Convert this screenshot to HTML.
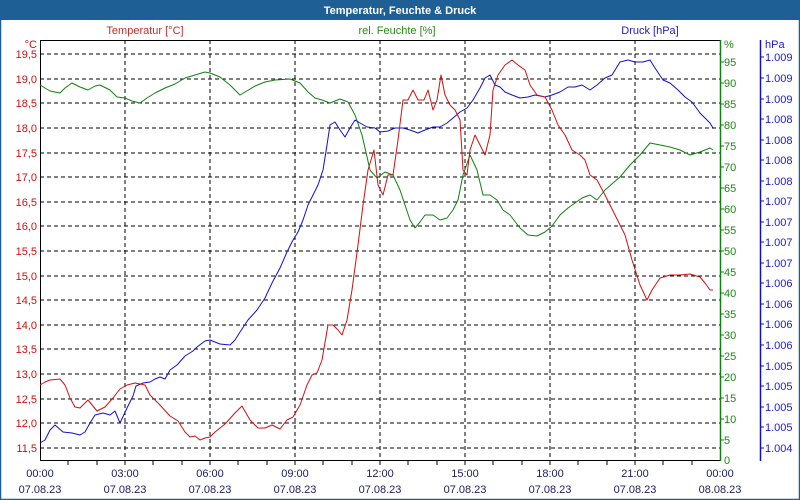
<!DOCTYPE html>
<html><head><meta charset="utf-8"><style>
html,body{margin:0;padding:0;background:#fff}
svg{display:block}
text{font-family:"Liberation Sans",sans-serif;font-size:11px}
</style></head><body>
<svg width="800" height="500" viewBox="0 0 800 500">
<rect x="0" y="0" width="800" height="500" fill="#fff"/>
<rect x="0.5" y="0.5" width="799" height="499" fill="none" stroke="#1e5f96" stroke-width="1.5"/>
<rect x="0" y="0" width="800" height="20" fill="#1e5f96"/>
<text x="400" y="14" text-anchor="middle" fill="#fff" font-weight="bold">Temperatur, Feuchte &amp; Druck</text>
<text x="145" y="34" text-anchor="middle" fill="#c0302a">Temperatur [°C]</text>
<text x="397" y="34" text-anchor="middle" fill="#2a8a10">rel. Feuchte [%]</text>
<text x="650" y="34" text-anchor="middle" fill="#2020c0">Druck [hPa]</text>
<g stroke="#000" stroke-dasharray="4,3" stroke-width="1">
<line x1="40" x2="720" y1="54" y2="54"/><line x1="40" x2="720" y1="79" y2="79"/><line x1="40" x2="720" y1="103" y2="103"/><line x1="40" x2="720" y1="128" y2="128"/><line x1="40" x2="720" y1="153" y2="153"/><line x1="40" x2="720" y1="177" y2="177"/><line x1="40" x2="720" y1="202" y2="202"/><line x1="40" x2="720" y1="226" y2="226"/><line x1="40" x2="720" y1="251" y2="251"/><line x1="40" x2="720" y1="276" y2="276"/><line x1="40" x2="720" y1="300" y2="300"/><line x1="40" x2="720" y1="325" y2="325"/><line x1="40" x2="720" y1="349" y2="349"/><line x1="40" x2="720" y1="374" y2="374"/><line x1="40" x2="720" y1="399" y2="399"/><line x1="40" x2="720" y1="423" y2="423"/><line x1="40" x2="720" y1="448" y2="448"/>
<line x1="125" x2="125" y1="40" y2="460"/><line x1="210" x2="210" y1="40" y2="460"/><line x1="295" x2="295" y1="40" y2="460"/><line x1="380" x2="380" y1="40" y2="460"/><line x1="465" x2="465" y1="40" y2="460"/><line x1="550" x2="550" y1="40" y2="460"/><line x1="635" x2="635" y1="40" y2="460"/>
</g>
<g stroke="#000" stroke-width="1">
<line x1="40" x2="720" y1="40.5" y2="40.5"/>
<line x1="40.5" x2="40.5" y1="40" y2="460"/>
<line x1="40" x2="720" y1="460.5" y2="460.5"/>
<line x1="68" x2="68" y1="460" y2="465"/><line x1="97" x2="97" y1="460" y2="465"/><line x1="125" x2="125" y1="460" y2="465"/><line x1="153" x2="153" y1="460" y2="465"/><line x1="182" x2="182" y1="460" y2="465"/><line x1="210" x2="210" y1="460" y2="465"/><line x1="238" x2="238" y1="460" y2="465"/><line x1="267" x2="267" y1="460" y2="465"/><line x1="295" x2="295" y1="460" y2="465"/><line x1="323" x2="323" y1="460" y2="465"/><line x1="352" x2="352" y1="460" y2="465"/><line x1="380" x2="380" y1="460" y2="465"/><line x1="408" x2="408" y1="460" y2="465"/><line x1="437" x2="437" y1="460" y2="465"/><line x1="465" x2="465" y1="460" y2="465"/><line x1="493" x2="493" y1="460" y2="465"/><line x1="522" x2="522" y1="460" y2="465"/><line x1="550" x2="550" y1="460" y2="465"/><line x1="578" x2="578" y1="460" y2="465"/><line x1="607" x2="607" y1="460" y2="465"/><line x1="635" x2="635" y1="460" y2="465"/><line x1="663" x2="663" y1="460" y2="465"/><line x1="692" x2="692" y1="460" y2="465"/>
</g>
<line x1="720.5" x2="720.5" y1="40" y2="461" stroke="#108010" stroke-width="1.5"/>
<line x1="760.5" x2="760.5" y1="40" y2="461" stroke="#1010c0" stroke-width="1.5"/>
<g fill="#d01010" text-anchor="end">
<text x="37" y="48">°C</text>
<text x="37" y="58">19,5</text><text x="37" y="83">19,0</text><text x="37" y="107">18,5</text><text x="37" y="132">18,0</text><text x="37" y="157">17,5</text><text x="37" y="181">17,0</text><text x="37" y="206">16,5</text><text x="37" y="230">16,0</text><text x="37" y="255">15,5</text><text x="37" y="280">15,0</text><text x="37" y="304">14,5</text><text x="37" y="329">14,0</text><text x="37" y="353">13,5</text><text x="37" y="378">13,0</text><text x="37" y="403">12,5</text><text x="37" y="427">12,0</text><text x="37" y="452">11,5</text>
</g>
<g fill="#1a8a10">
<text x="724" y="48">%</text>
<text x="724" y="66">95</text><text x="724" y="87">90</text><text x="724" y="108">85</text><text x="724" y="129">80</text><text x="724" y="150">75</text><text x="724" y="171">70</text><text x="724" y="192">65</text><text x="724" y="213">60</text><text x="724" y="234">55</text><text x="724" y="255">50</text><text x="724" y="276">45</text><text x="724" y="297">40</text><text x="724" y="318">35</text><text x="724" y="339">30</text><text x="724" y="360">25</text><text x="724" y="381">20</text><text x="724" y="402">15</text><text x="724" y="423">10</text><text x="724" y="444">5</text><text x="724" y="464">0</text>
</g>
<g stroke="#108010"><line x1="720" x2="724" y1="62" y2="62"/><line x1="720" x2="724" y1="83" y2="83"/><line x1="720" x2="724" y1="104" y2="104"/><line x1="720" x2="724" y1="125" y2="125"/><line x1="720" x2="724" y1="146" y2="146"/><line x1="720" x2="724" y1="167" y2="167"/><line x1="720" x2="724" y1="188" y2="188"/><line x1="720" x2="724" y1="209" y2="209"/><line x1="720" x2="724" y1="230" y2="230"/><line x1="720" x2="724" y1="251" y2="251"/><line x1="720" x2="724" y1="272" y2="272"/><line x1="720" x2="724" y1="293" y2="293"/><line x1="720" x2="724" y1="314" y2="314"/><line x1="720" x2="724" y1="335" y2="335"/><line x1="720" x2="724" y1="356" y2="356"/><line x1="720" x2="724" y1="377" y2="377"/><line x1="720" x2="724" y1="398" y2="398"/><line x1="720" x2="724" y1="419" y2="419"/><line x1="720" x2="724" y1="440" y2="440"/></g>
<g fill="#1a1ad0">
<text x="765" y="48">hPa</text>
<text x="765" y="61">1.009</text><text x="765" y="82">1.009</text><text x="765" y="103">1.009</text><text x="765" y="123">1.008</text><text x="765" y="144">1.008</text><text x="765" y="164">1.008</text><text x="765" y="185">1.008</text><text x="765" y="205">1.007</text><text x="765" y="226">1.007</text><text x="765" y="246">1.007</text><text x="765" y="267">1.007</text><text x="765" y="287">1.006</text><text x="765" y="308">1.006</text><text x="765" y="328">1.006</text><text x="765" y="349">1.006</text><text x="765" y="370">1.005</text><text x="765" y="390">1.005</text><text x="765" y="411">1.005</text><text x="765" y="431">1.005</text><text x="765" y="452">1.004</text>
</g>
<g stroke="#1010c0"><line x1="760" x2="764" y1="57" y2="57"/><line x1="760" x2="764" y1="78" y2="78"/><line x1="760" x2="764" y1="99" y2="99"/><line x1="760" x2="764" y1="119" y2="119"/><line x1="760" x2="764" y1="140" y2="140"/><line x1="760" x2="764" y1="160" y2="160"/><line x1="760" x2="764" y1="181" y2="181"/><line x1="760" x2="764" y1="201" y2="201"/><line x1="760" x2="764" y1="222" y2="222"/><line x1="760" x2="764" y1="242" y2="242"/><line x1="760" x2="764" y1="263" y2="263"/><line x1="760" x2="764" y1="283" y2="283"/><line x1="760" x2="764" y1="304" y2="304"/><line x1="760" x2="764" y1="324" y2="324"/><line x1="760" x2="764" y1="345" y2="345"/><line x1="760" x2="764" y1="366" y2="366"/><line x1="760" x2="764" y1="386" y2="386"/><line x1="760" x2="764" y1="407" y2="407"/><line x1="760" x2="764" y1="427" y2="427"/><line x1="760" x2="764" y1="448" y2="448"/></g>
<g fill="#202060" text-anchor="middle">
<text x="40" y="477">00:00</text><text x="40" y="493">07.08.23</text>
<text x="125" y="477">03:00</text><text x="125" y="493">07.08.23</text>
<text x="210" y="477">06:00</text><text x="210" y="493">07.08.23</text>
<text x="295" y="477">09:00</text><text x="295" y="493">07.08.23</text>
<text x="380" y="477">12:00</text><text x="380" y="493">07.08.23</text>
<text x="465" y="477">15:00</text><text x="465" y="493">07.08.23</text>
<text x="550" y="477">18:00</text><text x="550" y="493">07.08.23</text>
<text x="635" y="477">21:00</text><text x="635" y="493">07.08.23</text>
<text x="720" y="477">00:00</text><text x="720" y="493">08.08.23</text>
</g>
<g fill="none" stroke-width="1" stroke-linejoin="round">
<polyline stroke="#108010" points="40,85 45,88 50,91 60,93 65,88 72,83 80,87 88,90 95,86 100,85 110,90 117,97 125,98 132,101 140,103 147,98 155,93 165,88 175,84 185,78 195,75 205,72 210,73 220,77 230,85 240,95 245,92 255,86 265,82 275,80 290,79 300,83 308,92 315,98 322,100 330,103 340,99 348,102 355,115 362,135 370,170 377,178 385,172 393,175 400,190 405,205 410,220 415,228 420,222 425,215 433,215 440,220 447,218 453,210 458,200 463,175 470,155 477,170 483,195 490,195 497,200 503,210 510,215 520,228 528,235 537,236 545,232 552,226 560,215 568,208 575,203 582,198 590,195 597,200 605,190 613,183 620,177 630,165 640,155 650,143 660,145 670,147 680,150 690,155 700,152 710,148 713,150"/>
<polyline stroke="#1010d0" points="40,443 45,440 50,430 55,425 63,432 72,433 80,435 85,432 90,423 95,415 103,413 110,415 115,411 120,423 127,408 133,396 136,386 143,383 150,382 155,379 160,377 165,379 170,370 177,365 185,356 193,351 197,347 205,341 210,340 220,344 230,345 235,340 240,332 248,320 257,310 265,298 272,283 280,268 287,252 293,240 298,232 303,220 308,205 313,195 318,185 323,170 327,145 330,125 335,122 340,130 345,137 350,128 355,120 360,123 367,127 375,128 380,132 388,131 395,128 403,128 410,130 418,133 425,130 433,127 440,127 447,123 453,118 460,112 467,108 473,100 480,88 485,78 490,75 495,85 500,87 505,92 512,95 520,98 528,97 535,95 545,97 552,95 560,92 568,87 575,87 582,85 590,90 597,85 605,78 612,75 620,62 628,60 635,62 643,62 650,60 655,68 663,80 670,83 678,90 685,97 692,102 700,113 705,118 710,123 713,128"/>
<polyline stroke="#d01010" points="40,385 45,382 50,380 60,379 65,385 70,398 75,407 80,408 88,400 97,411 105,407 113,398 120,389 127,385 135,383 145,385 150,395 160,405 170,416 178,421 185,432 190,437 195,436 200,440 205,438 210,437 215,432 225,424 235,413 242,406 250,420 258,428 265,428 272,425 280,429 287,420 293,417 300,405 307,385 312,375 317,373 322,360 328,325 333,325 338,330 342,335 347,320 352,290 358,245 363,205 368,170 374,150 378,185 383,195 388,175 393,175 398,140 403,100 408,100 413,90 418,100 424,100 428,90 433,110 437,100 441,75 445,95 450,105 455,110 460,120 463,170 467,175 470,150 475,135 480,145 485,155 490,135 493,90 498,75 505,65 512,60 518,65 525,70 530,85 537,95 545,97 552,110 558,125 565,135 572,150 580,155 585,160 590,175 597,180 605,195 615,215 625,235 632,260 640,285 647,300 652,290 660,278 670,275 680,275 690,274 700,277 705,283 710,290 713,290"/>
</g>
</svg>
</body></html>
